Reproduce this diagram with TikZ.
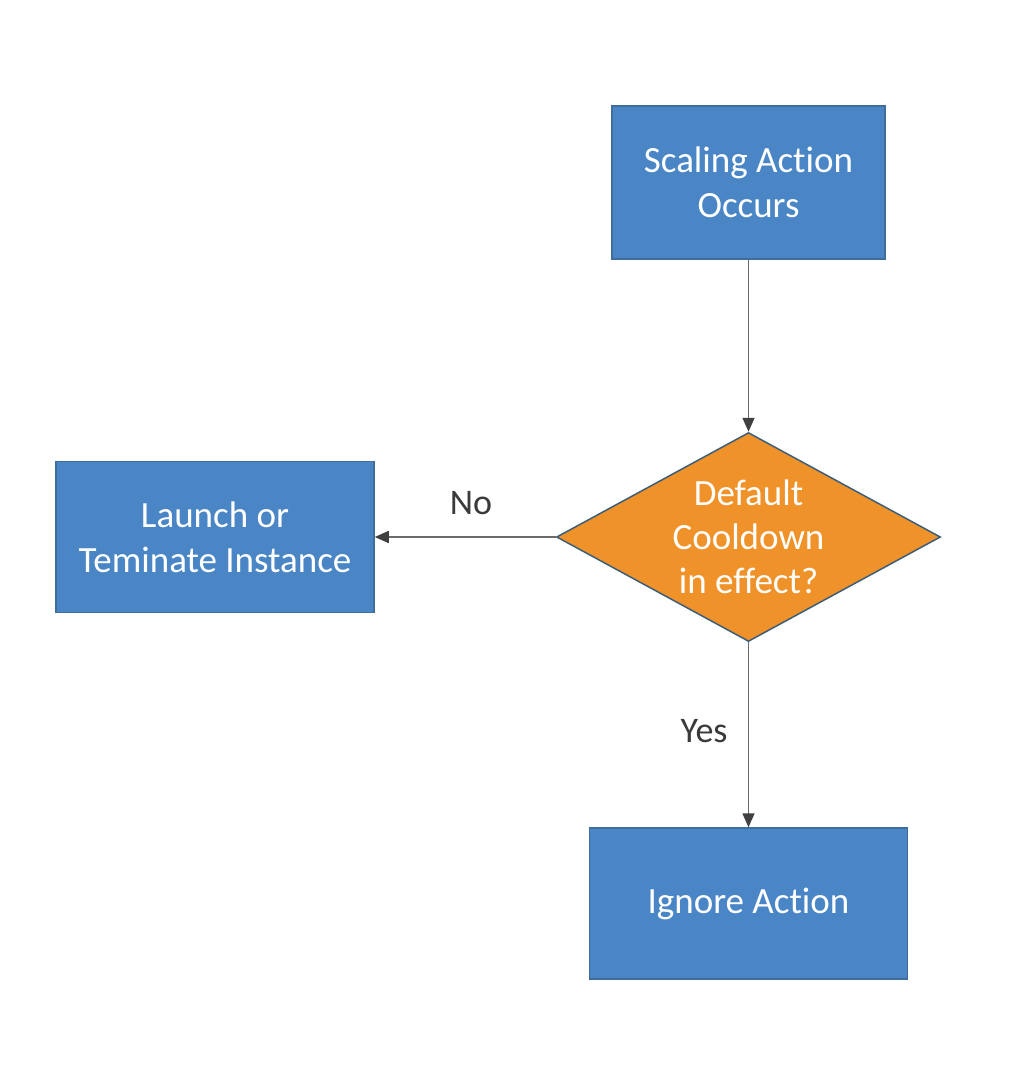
\documentclass[tikz,border=0pt]{standalone}
\usepackage{fontspec}
\setmainfont{Carlito}[Ligatures=NoCommon]
\usetikzlibrary{shapes.geometric,arrows.meta}
\definecolor{boxblue}{HTML}{4A86C6}
\definecolor{boxedge}{HTML}{3F6E9C}
\definecolor{dorange}{HTML}{F0922A}
\definecolor{dedge}{HTML}{3E5E78}
\definecolor{linegray}{HTML}{6A6A6A}
\definecolor{tipgray}{HTML}{404040}
\definecolor{labelgray}{HTML}{3A3A3A}
\tikzset{
  bluebox/.style={draw=boxedge, line width=1.5pt, fill=boxblue, text=white,
    align=center, inner sep=0pt, font=\fontsize{37}{45}\selectfont},
  decision/.style={diamond, draw=dedge, line width=1.5pt, fill=dorange,
    inner sep=0pt, minimum width=384pt, minimum height=209pt},
  dtext/.style={text=white, align=center, font=\fontsize{37}{44}\selectfont},
  flow/.style={draw=linegray, line width=1.6pt,
    -{Triangle[length=14pt,width=12pt,color=tipgray]}},
  lbl/.style={text=labelgray, font=\fontsize{36}{44}\selectfont}
}
\begin{document}
\begin{tikzpicture}[x=1pt,y=-1pt]
  \useasboundingbox[fill=white] (0,0) rectangle (1022,1076);
  \node[bluebox, minimum width=273pt, minimum height=153pt] (start) at (748.5,182.5)
    {Scaling Action\\Occurs};
  \node[decision] (dia) at (748.5,537) {};
  \node[dtext] (dtxt) at (748.5,537) {Default\\Cooldown\\in effect?};
  \node[bluebox, minimum width=318pt, minimum height=151pt] (launch) at (215,537)
    {Launch or\\Teminate Instance};
  \node[bluebox, minimum width=318pt, minimum height=151pt] (ignore) at (748.5,903.5)
    {Ignore Action};
  \draw[flow] (start.south) -- (dia.north);
  \draw[flow] (dia.west) -- (launch.east);
  \draw[flow] (dia.south) -- (ignore.north);
  \node[lbl] (no) at (471,503) {No};
  \node[lbl] (yes) at (704,731) {Yes};
\end{tikzpicture}
\end{document}
